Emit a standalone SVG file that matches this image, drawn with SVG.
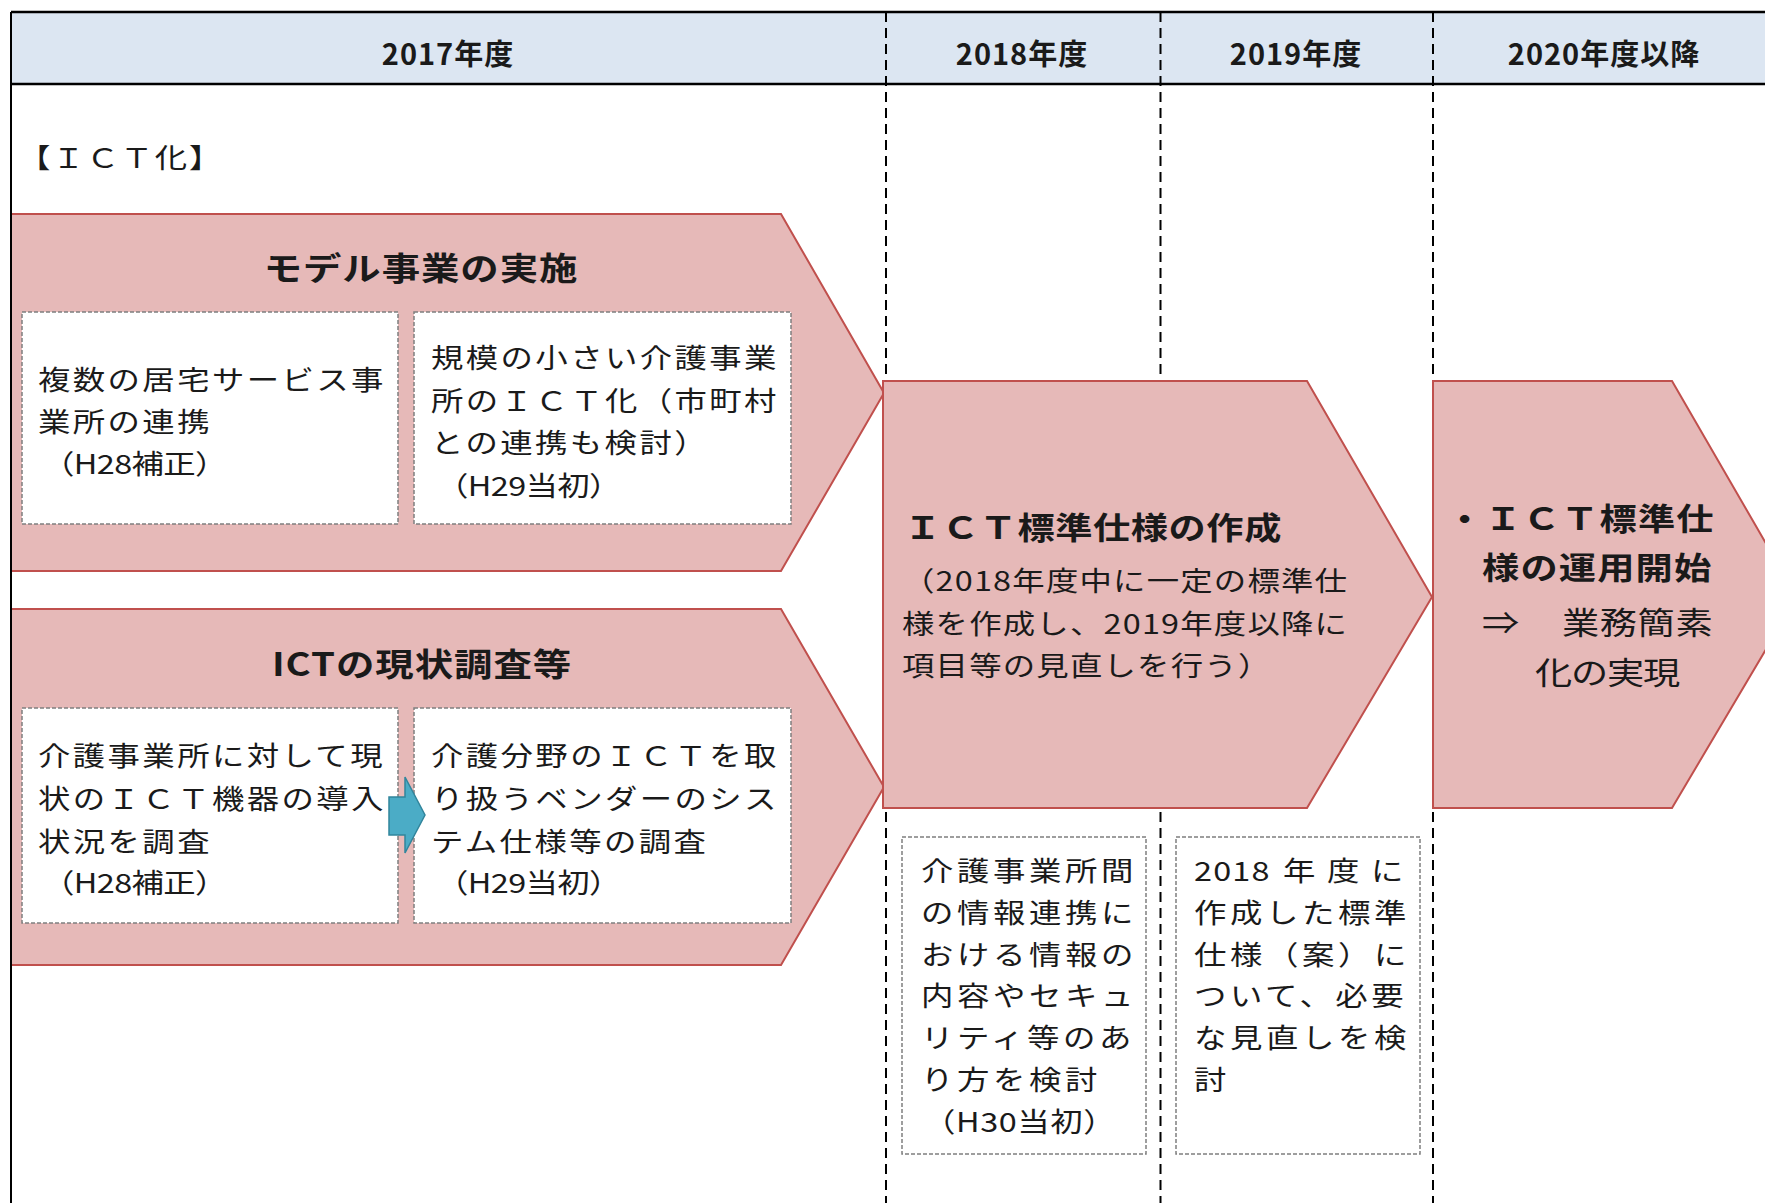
<svg xmlns="http://www.w3.org/2000/svg" width="1765" height="1203" viewBox="0 0 1765 1203">
<defs>
<style>
text{font-family:"Noto Sans CJK JP","Noto Sans",sans-serif;fill:#1a1a1a}
.hd{font-size:29px;font-weight:700;letter-spacing:1px;text-anchor:middle}
.ttl{font-size:32px;font-weight:700;letter-spacing:0.8px}
.bd{font-size:27px;letter-spacing:2px}
.bdb{font-size:27px;letter-spacing:3px}
.bd3{font-size:27px;letter-spacing:1px}
.bdp{font-size:27px;letter-spacing:-0.5px}
.big{font-size:31px;font-weight:700;letter-spacing:1px}
.bign{font-size:31px;letter-spacing:0.5px}
.arrow{fill:#e6b9b8;stroke:#c0504d;stroke-width:2}
.box{fill:#fff;stroke:#7f7f7f;stroke-width:1.5;stroke-dasharray:4 2}
.vd{stroke:#000;stroke-width:2;stroke-dasharray:10 6;fill:none}
.hl{stroke:#000;stroke-width:2.5;fill:none}
</style>
</defs>
<rect x="0" y="0" width="1765" height="1203" fill="#fff"/>
<g id="grid">
<rect x="11" y="12" width="1754" height="72" fill="#dce6f2"/>
<line class="vd" x1="886" y1="12" x2="886" y2="1203"/>
<line class="vd" x1="1160.5" y1="12" x2="1160.5" y2="1203"/>
<line class="vd" x1="1433" y1="12" x2="1433" y2="1203"/>
<line class="hl" x1="11" y1="12" x2="1765" y2="12"/>
<line class="hl" x1="11" y1="84" x2="1765" y2="84"/>
<text class="hd" x="448" y="65">2017年度</text>
<text class="hd" x="1022" y="65">2018年度</text>
<text class="hd" x="1296" y="65">2019年度</text>
<text class="hd" x="1604" y="65">2020年度以降</text>
<text class="bd" transform="translate(18,168) scale(1.2,1)" style="letter-spacing:1.5px">【ＩＣＴ化】</text>
</g>
<g id="model">
<polygon class="arrow" points="11,214 781,214 884,393 781,571 11,571"/>
<text class="ttl" transform="translate(421,280) scale(1.2,1)" text-anchor="middle">モデル事業の実施</text>
<rect class="box" x="22" y="312" width="376" height="212"/>
<text class="bd" transform="translate(38,390) scale(1.2,1)">複数の居宅サービス事</text>
<text class="bd" transform="translate(38,432) scale(1.2,1)">業所の連携</text>
<text class="bdp" transform="translate(42,474) scale(1.2,1)">（H28補正）</text>
<rect class="box" x="414" y="312" width="377" height="212"/>
<text class="bd" transform="translate(431,368) scale(1.2,1)">規模の小さい介護事業</text>
<text class="bd" transform="translate(431,411) scale(1.2,1)">所のＩＣＴ化（市町村</text>
<text class="bd" transform="translate(431,453) scale(1.2,1)">との連携も検討）</text>
<text class="bdp" transform="translate(436,496) scale(1.2,1)">（H29当初）</text>
</g>
<g id="survey">
<polygon class="arrow" points="11,609 781,609 884,787 781,965 11,965"/>
<text class="ttl" transform="translate(422,676) scale(1.2,1)" text-anchor="middle">ICTの現状調査等</text>
<rect class="box" x="22" y="708" width="376" height="215"/>
<text class="bd" transform="translate(38,766) scale(1.2,1)">介護事業所に対して現</text>
<text class="bd" transform="translate(38,809) scale(1.2,1)">状のＩＣＴ機器の導入</text>
<text class="bd" transform="translate(38,852) scale(1.2,1)">状況を調査</text>
<text class="bdp" transform="translate(42,893) scale(1.2,1)">（H28補正）</text>
<rect class="box" x="414" y="708" width="377" height="215"/>
<text class="bd" transform="translate(431,766) scale(1.2,1)">介護分野のＩＣＴを取</text>
<text class="bd" transform="translate(431,809) scale(1.2,1)">り扱うベンダーのシス</text>
<text class="bd" transform="translate(431,852) scale(1.2,1)">テム仕様等の調査</text>
<text class="bdp" transform="translate(436,893) scale(1.2,1)">（H29当初）</text>
</g>
<g id="spec">
<polygon class="arrow" points="883,381 1307,381 1432,597 1307,808 883,808"/>
<text class="big" transform="translate(904,539) scale(1.2,1)" style="letter-spacing:0.5px">ＩＣＴ標準仕様の作成</text>
<text class="bd3" transform="translate(902,591) scale(1.2,1)">（2018年度中に一定の標準仕</text>
<text class="bd3" transform="translate(902,634) scale(1.2,1)">様を作成し、2019年度以降に</text>
<text class="bd3" transform="translate(902,676) scale(1.2,1)">項目等の見直しを行う）</text>
</g>
<g id="operation">
<polygon class="arrow" points="1433,381 1672,381 1797,597 1672,808 1433,808"/>
<text class="big" transform="translate(1446,530) scale(1.2,1)">・ＩＣＴ標準仕</text>
<text class="big" transform="translate(1482,579) scale(1.2,1)">様の運用開始</text>
<text class="bign" transform="translate(1482,634) scale(1.2,1)">⇒</text>
<text class="bign" transform="translate(1562,634) scale(1.2,1)">業務簡素</text>
<text class="bign" transform="translate(1535,684) scale(1.2,1)" style="letter-spacing:-1px">化の実現</text>
</g>
<g id="review2018">
<rect class="box" x="902" y="837" width="244" height="317"/>
<text class="bdb" transform="translate(921,881) scale(1.2,1)">介護事業所間</text>
<text class="bdb" transform="translate(921,923) scale(1.2,1)">の情報連携に</text>
<text class="bdb" transform="translate(921,965) scale(1.2,1)">おける情報の</text>
<text class="bdb" transform="translate(921,1006) scale(1.2,1)">内容やセキュ</text>
<text class="bdb" transform="translate(921,1048) scale(1.2,1)">リティ等のあ</text>
<text class="bdb" transform="translate(921,1090) scale(1.2,1)">り方を検討</text>
<text class="bdp" transform="translate(923,1132) scale(1.2,1)" style="letter-spacing:0.5px">（H30当初）</text>
</g>
<g id="review2019">
<rect class="box" x="1176" y="837" width="244" height="317"/>
<text class="bdb" transform="translate(1194,881) scale(1.2,1)" style="letter-spacing:1px">2018</text>
<text class="bdb" transform="translate(1283,881) scale(1.2,1)">年</text>
<text class="bdb" transform="translate(1327,881) scale(1.2,1)">度</text>
<text class="bdb" transform="translate(1371,881) scale(1.2,1)">に</text>
<text class="bdb" transform="translate(1194,923) scale(1.2,1)">作成した標準</text>
<text class="bdb" transform="translate(1194,965) scale(1.2,1)">仕様（案）に</text>
<text class="bdb" transform="translate(1194,1006) scale(1.2,1)">ついて、必要</text>
<text class="bdb" transform="translate(1194,1048) scale(1.2,1)">な見直しを検</text>
<text class="bdb" transform="translate(1194,1090) scale(1.2,1)">討</text>
</g>
<g id="connectors">
<polygon points="389,797 405,797 405,777 425,815 405,853 405,835 389,835" fill="#4bacc6" stroke="#31859c" stroke-width="1.5"/>
</g>
<line x1="11" y1="12" x2="11" y2="1203" stroke="#000" stroke-width="2"/>
</svg>
